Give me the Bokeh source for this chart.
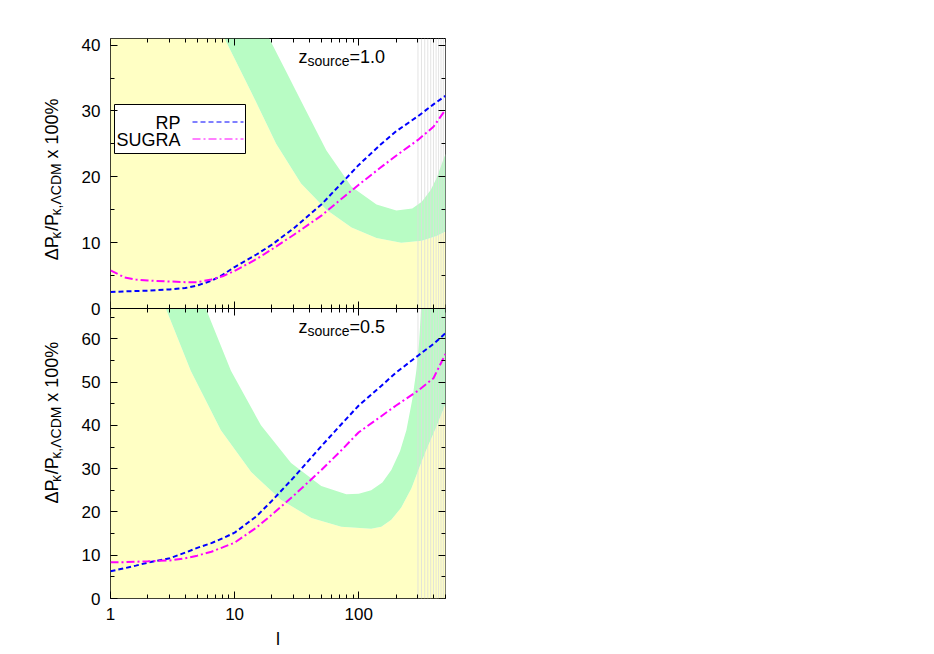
import math
from bokeh.plotting import figure
from bokeh.layouts import row
from bokeh.models import (Range1d, LinearAxis, LogAxis, FixedTicker, Label, Span,
                          CustomJSTickFormatter, PrintfTickFormatter)
from bokeh.embed import file_html
from bokeh.resources import INLINE

# ---------------- data ----------------
ell = [1, 1.3, 1.6, 2, 3, 4, 5, 6.5, 8, 10, 15, 20, 30, 50, 70, 100, 150, 200, 300, 400, 500]

rp_z10 = [2.5, 2.6, 2.65, 2.7, 2.9, 3.1, 3.5, 4.2, 5.1, 6.3, 8.2, 9.7, 12.2, 15.8, 18.7,
          21.8, 24.9, 26.9, 29.2, 31.0, 32.3]
sugra_z10 = [5.8, 4.7, 4.4, 4.25, 4.1, 4.0, 4.0, 4.4, 4.9, 5.7, 7.5, 9.0, 11.2, 14.1, 16.4,
             18.8, 21.4, 23.2, 25.6, 27.6, 30.2]
rp_z05 = [6.3, 7.0, 7.6, 8.3, 9.3, 10.6, 11.7, 12.8, 13.9, 15.2, 19.0, 22.6, 28.0, 35.2, 39.8,
          44.6, 49.0, 52.2, 56.1, 58.8, 61.3]
sugra_z05 = [8.4, 8.4, 8.5, 8.6, 8.8, 9.3, 9.9, 10.8, 11.8, 12.9, 16.4, 19.4, 23.8, 29.7, 33.8,
             38.4, 42.0, 44.6, 48.0, 50.9, 56.5]

# survey error band (z=1.0): lower and upper edges
band10_low_l = [1, 8.3, 13.5, 21.6, 34.3, 54.9, 87.5, 139, 220, 322, 424, 500]
band10_low_v = [41, 41, 33.0, 25.0, 19.0, 15.0, 12.3, 10.7, 10.0, 10.3, 11.0, 11.7]
band10_up_l = [19.0, 26, 34.3, 54.9, 87.5, 139, 201, 270, 322, 380, 424, 500]
band10_up_v = [41, 36, 31.5, 24, 18.5, 15.8, 14.9, 15.2, 16.2, 18.0, 19.8, 23.5]

# survey error band (z=0.5)
band05_low_l = [1, 2.79, 4.43, 7.75, 13.6, 23.6, 41.5, 72.3, 126, 152, 183, 220, 266, 310,
                352, 420, 500]
band05_low_v = [67, 67, 52.6, 38.9, 29.2, 22.8, 18.6, 16.6, 16.1, 16.6, 18.2, 21.0, 25.5,
                30.5, 34.5, 39.5, 45]
band05_up_l = [5.86, 9.34, 16.3, 28.5, 49.9, 79.4, 100, 126, 155, 183, 215, 242, 270, 291,
               306, 318, 500]
band05_up_v = [67, 52.6, 40, 31.3, 26, 24.1, 24.2, 25, 26.8, 29.7, 34.0, 38.9, 46, 52.6,
               59, 67, 67]

# vertical grey lines at high multipoles
vline_l = [300, 320, 340, 360, 380, 400, 420, 440, 460, 480, 500]

x_ticks = [1, 10, 100]
x_minor = [k * 10 ** e for e in range(3) for k in range(2, 10) if k * 10 ** e <= 500]
top_yticks = [0, 10, 20, 30, 40]
bot_yticks = [0, 10, 20, 30, 40, 50, 60]

# ---------------- style ----------------
FONT = "Liberation Sans"
TICK = 17
MAIN = 18
SUB = 14
YELLOW = "#ffffc4"
GREEN = "#b8fcc4"
BLUE = "#0000ff"
MAGENTA = "#ff00ff"
GREY = "#dcdcdc"

TOP_MAX, BOT_MAX = 41.0, 67.0
TOP_PX, BOT_PX = 270, 290
FRAME_PX = TOP_PX + BOT_PX
FRAME_W = 335
X_MAX = 500.0
top_start = TOP_MAX - FRAME_PX * TOP_MAX / TOP_PX
bot_end = BOT_MAX * FRAME_PX / BOT_PX

LAB_W = 75          # width of the strip holding the rotated y labels
BORDER_L = 35
BORDER_T = 38
BORDER_B = 50
FL = LAB_W + BORDER_L            # page x of frame left
FT = BORDER_T                    # page y of frame top
SEP = FT + TOP_PX                # page y of panel separator
H = BORDER_T + FRAME_PX + BORDER_B
DEC = FRAME_W / math.log10(X_MAX)

def px_l(px):
    return 10 ** ((px - FL) / DEC)

def py_top(py):
    return (SEP - py) * TOP_MAX / TOP_PX

p = figure(frame_width=FRAME_W, frame_height=FRAME_PX, x_axis_type="log",
           x_range=Range1d(1, X_MAX), y_range=Range1d(top_start, TOP_MAX),
           x_axis_location=None, y_axis_location=None,
           min_border_left=BORDER_L, min_border_right=10, min_border_top=BORDER_T,
           min_border_bottom=BORDER_B,
           output_backend="svg", toolbar_location=None,
           outline_line_color="black", outline_line_width=1,
           background_fill_color="white", border_fill_color="white")
p.extra_y_ranges = {"bot": Range1d(0, bot_end)}
p.grid.visible = False

# ---- fills ----
p.varea(x=band10_low_l, y1=0, y2=band10_low_v, fill_color=YELLOW)
p.patch(x=band10_low_l + band10_up_l[::-1], y=band10_low_v + band10_up_v[::-1],
        fill_color=GREEN, line_color=None)
p.varea(x=band05_low_l, y1=0, y2=band05_low_v, fill_color=YELLOW, y_range_name="bot")
p.patch(x=band05_low_l + band05_up_l[::-1], y=band05_low_v + band05_up_v[::-1],
        fill_color=GREEN, line_color=None, y_range_name="bot")

# ---- vertical lines ----
p.segment(x0=vline_l, y0=top_start, x1=vline_l, y1=TOP_MAX, line_color=GREY, line_width=1,
          line_alpha=0.8)

# ---- curves ----
p.line(ell, rp_z10, line_color=BLUE, line_width=2, line_dash="5 3")
p.line(ell, sugra_z10, line_color=MAGENTA, line_width=2, line_dash="8 3 2 3")
p.line(ell, rp_z05, line_color=BLUE, line_width=2, line_dash="5 3", y_range_name="bot")
p.line(ell, sugra_z05, line_color=MAGENTA, line_width=2, line_dash="8 3 2 3", y_range_name="bot")

# ---- separator ----
p.add_layout(Span(location=0, dimension="width", line_color="black", line_width=1))

# ---- axes ----
empty = CustomJSTickFormatter(code="return ''")

def style_axis(ax, tin=7, tout=0, min_in=4, min_out=0, labels=True):
    ax.axis_line_color = None
    ax.major_tick_in = tin
    ax.major_tick_out = tout
    ax.minor_tick_in = min_in
    ax.minor_tick_out = min_out
    ax.major_tick_line_color = "black"
    ax.minor_tick_line_color = "black"
    ax.major_label_text_font = FONT
    ax.major_label_text_font_size = f"{TICK}px"
    ax.major_label_text_color = "black"
    if not labels:
        ax.formatter = empty

def xticker():
    return FixedTicker(ticks=x_ticks, minor_ticks=x_minor)

xb = LogAxis(ticker=xticker(), formatter=PrintfTickFormatter(format="%d"))
style_axis(xb)
xb.major_label_standoff = 9
xb.axis_label = "l"
xb.axis_label_text_font = FONT
xb.axis_label_text_font_size = f"{MAIN}px"
xb.axis_label_text_font_style = "normal"
xb.axis_label_text_color = "black"
xb.axis_label_standoff = 6
p.add_layout(xb, "below")

xt = LogAxis(ticker=xticker(), fixed_location=TOP_MAX)
style_axis(xt, labels=False)
p.add_layout(xt, "above")

xm = LogAxis(ticker=xticker(), fixed_location=0)
style_axis(xm, tin=7, tout=7, min_in=4, min_out=4, labels=False)
p.add_layout(xm, "below")

# one left axis on the full-frame range carries the ticks of both panels
def bot_to_top(v):
    d = (BOT_MAX - v) * BOT_PX / BOT_MAX
    return -d * TOP_MAX / TOP_PX

pos = [float(t) for t in top_yticks] + [bot_to_top(t) for t in bot_yticks]
labs = [str(t) for t in top_yticks] + [str(t) for t in bot_yticks]
minor_pos = ([t + 5.0 for t in top_yticks if t + 5 < TOP_MAX] +
             [bot_to_top(t + 5) for t in bot_yticks if t + 5 < BOT_MAX])
yfmt = CustomJSTickFormatter(args=dict(pos=pos, labs=labs), code="""
let best = 0; let bd = 1e9;
for (let i = 0; i < pos.length; i++) {
  const d = Math.abs(pos[i] - tick);
  if (d < bd) { bd = d; best = i; }
}
return labs[best];
""")
yl = LinearAxis(ticker=FixedTicker(ticks=pos, minor_ticks=minor_pos), formatter=yfmt)
style_axis(yl)
yl.major_label_standoff = 10
p.add_layout(yl, "left")

yr = LinearAxis(ticker=FixedTicker(ticks=pos, minor_ticks=minor_pos), fixed_location=X_MAX)
style_axis(yr, labels=False)
p.add_layout(yr, "right")

# ---- text helpers ----
W = {'Δ': 0.668, 'P': 0.667, 'κ': 0.58, '/': 0.278, ',': 0.278, 'Λ': 0.667, 'C': 0.722,
     'D': 0.722, 'M': 0.833, ' ': 0.278, 'x': 0.5, '1': 0.556, '0': 0.556, '%': 0.889,
     'z': 0.5, 's': 0.5, 'o': 0.556, 'u': 0.556, 'r': 0.333, 'c': 0.5, 'e': 0.556,
     '=': 0.584, '.': 0.278, '5': 0.556}

def tw(s, size):
    return sum(W.get(ch, 0.55) for ch in s) * size

def lab(fig, text, size, **kw):
    base = dict(text=text, text_font=FONT, text_font_size=f"{size}px", text_color="black")
    base.update(kw)
    fig.add_layout(Label(**base))

# z_source labels
def zlabel(ztxt, range_name, ymax, base_px_below_top):
    x0 = 298 - FL
    lab(p, "z", MAIN, x=1, y=ymax, y_range_name=range_name, x_offset=x0,
        y_offset=-base_px_below_top, text_align="left", text_baseline="alphabetic")
    x0 += tw("z", MAIN)
    lab(p, "source", SUB, x=1, y=ymax, y_range_name=range_name, x_offset=x0,
        y_offset=-(base_px_below_top + 4), text_align="left", text_baseline="alphabetic")
    x0 += tw("source", SUB)
    lab(p, ztxt, MAIN, x=1, y=ymax, y_range_name=range_name, x_offset=x0,
        y_offset=-base_px_below_top, text_align="left", text_baseline="alphabetic")

zlabel("=1.0", "default", TOP_MAX, 18)
zlabel("=0.5", "bot", BOT_MAX, 18)

# ---- legend (gnuplot style: text then sample) ----
LEG_BOX = dict(left=114, right=245, top=104, bottom=153)   # page px
p.quad(left=px_l(LEG_BOX["left"]), right=px_l(LEG_BOX["right"]),
       top=py_top(LEG_BOX["top"]), bottom=py_top(LEG_BOX["bottom"]),
       fill_color="white", line_color="black", line_width=1)
legend_items = [("RP", BLUE, "5 3", 121.5), ("SUGRA", MAGENTA, "8 3 2 3", 138.5)]
for name, col, dash, ypx in legend_items:
    lab(p, name, MAIN, x=1, y=TOP_MAX, x_offset=180 - FL, y_offset=-(ypx + 1 - FT),
        text_align="right", text_baseline="middle")
    p.line([px_l(192), px_l(243)], [py_top(ypx), py_top(ypx)], line_color=col,
           line_width=1, line_dash=dash)

# ---- strip with the rotated y-axis labels (page pixel coordinates) ----
q = figure(width=LAB_W, height=H, x_range=Range1d(0, LAB_W), y_range=Range1d(H, 0),
           x_axis_location=None, y_axis_location=None, min_border=0,
           min_border_left=0, min_border_right=0, min_border_top=0, min_border_bottom=0,
           output_backend="svg", toolbar_location=None, outline_line_color=None,
           background_fill_color="white", border_fill_color="white")
q.grid.visible = False

ylab_pieces = [("ΔP", False, 0), ("κ", True, 1), ("/P", False, 1), ("κ,ΛCDM", True, 1),
               (" x 100%", False, 8)]

def ylabel(start_y):
    cum = 0.0
    for txt, sub, gap in ylab_pieces:
        size = SUB if sub else MAIN
        shown = txt.lstrip(" ")
        cum += gap
        lead = tw(txt[:len(txt) - len(shown)], size)
        lab(q, shown, size, x=(55 if sub else 51), y=start_y - cum - lead,
            angle=math.pi / 2, text_align="left", text_baseline="alphabetic")
        cum += tw(txt, size)

ylabel(258)
ylabel(541)

layout = row(q, p, spacing=0)
open("out.html", "w").write(file_html(layout, INLINE))
